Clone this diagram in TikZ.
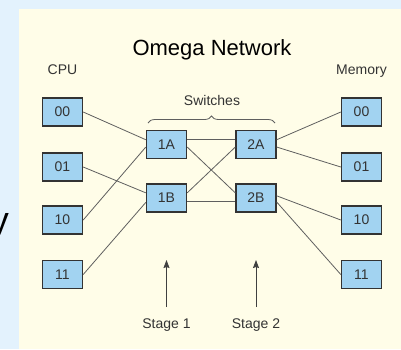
\documentclass[tikz,border=0pt]{standalone}
\usepackage{fontspec}
\setmainfont{Liberation Sans}
\usetikzlibrary{arrows.meta,decorations.pathreplacing}
\definecolor{slideblue}{RGB}{227,242,253}
\definecolor{cream}{RGB}{255,253,232}
\definecolor{boxblue}{RGB}{162,211,241}
\definecolor{wiregray}{RGB}{95,95,95}
\begin{document}
\begin{tikzpicture}[x=1pt,y=-1pt,
    box/.style={draw=black!80, line width=1.4pt, fill=boxblue, minimum width=40pt,
      minimum height=28pt, inner sep=0pt, text=black!80, font=\fontsize{14}{14}\selectfont},
    wire/.style={draw=wiregray, line width=0.8pt},
    txt/.style={anchor=base, text=black!80, font=\fontsize{14}{14}\selectfont}]
        \fill [slideblue] (0,0) rectangle (401,349);
        \useasboundingbox (0,0) rectangle (401,349);
        \fill [cream] (19,9) rectangle (401,349);
        \node [anchor=base east, inner sep=0pt, font=\fontsize{36}{36}\selectfont] (ycut) at (9,232) {y};
        \node [anchor=base, font=\fontsize{22}{22}\selectfont] (title) at (212,55) {Omega Network};
        \node [txt] (cpu) at (62.5,74) {CPU};
        \node [txt] (memory) at (361.5,74) {Memory};
        \node [txt] (switches) at (212,105) {Switches};
        \foreach \b/\y in {00/112,01/167,10/220,11/274.5}{
          \node [box] (c\b) at (62.5,\y) {\b};
          \node [box] (m\b) at (361.5,\y) {\b};
        }
        \node [box] (s1A) at (166.5,144.5) {1A};
        \node [box] (s1B) at (166.5,198) {1B};
        \node [box] (s2A) at (256,144.5) {2A};
        \node [box] (s2B) at (256,198) {2B};
        \draw [wire] (c00.east) -- (s1A.167);
        \draw [wire] (c10.east) -- (s1A.187);
        \draw [wire] (c01.east) -- (s1B.166);
        \draw [wire] (c11.east) -- (s1B.192);
        \draw [wire] (s1A.13) -- (s2A.167);
        \draw [wire] (s1A.353) -- (s2B.166);
        \draw [wire] (s1B.14) -- (s2A.187);
        \draw [wire] (s1B.351) -- (s2B.189);
        \draw [wire] (s2A.13) -- (m00.west);
        \draw [wire] (s2A.353) -- (m01.west);
        \draw [wire] (s2B.6) -- (m10.west);
        \draw [wire] (s2B.349) -- (m11.west);
        \draw [wire, decorate, decoration={brace, amplitude=7pt}] (148,123) -- (275,123);
        \foreach \s/\x in {1/166.5,2/256}{
          \node [txt] (stage\s) at (\x,328) {Stage \s};
          \coordinate (foot\s) at (\x,307);
          \coordinate (tip\s) at (\x,260);
          \draw [wire, draw=black!75, -{Stealth[length=8pt,width=6pt,inset=1pt]}] (foot\s) -- (tip\s);
        }
      \end{tikzpicture}
\end{document}
